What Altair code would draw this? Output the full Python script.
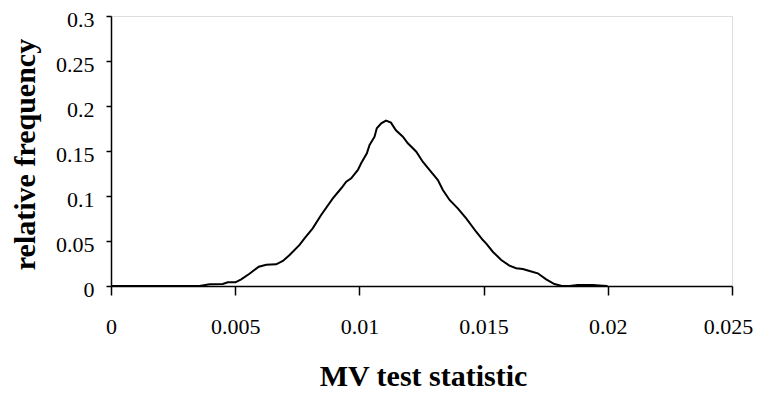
import altair as alt
import pandas as pd

# MV test statistic values (x) and relative frequency (y)
mv_stat = [0.0, 0.00356, 0.00397, 0.00450, 0.00470, 0.00501, 0.00524, 0.00556,
           0.00595, 0.00625, 0.00665, 0.00692, 0.00719, 0.00759, 0.00779,
           0.00812, 0.00846, 0.00893, 0.00927, 0.00947, 0.00967, 0.00994,
           0.01007, 0.01030, 0.01041, 0.01061, 0.01070, 0.01088, 0.01107,
           0.01127, 0.01147, 0.01175, 0.01195, 0.01229, 0.01255, 0.01282,
           0.01316, 0.01336, 0.01363, 0.01396, 0.01430, 0.01470, 0.01497,
           0.01510, 0.01537, 0.01571, 0.01604, 0.01631, 0.01658, 0.01685,
           0.01718, 0.01752, 0.01785, 0.01812, 0.01846, 0.01879, 0.01940,
           0.01980, 0.01999]
rel_freq = [0.0, 0.0, 0.0019, 0.0022, 0.0041, 0.0041, 0.0074, 0.0133,
            0.0214, 0.0237, 0.0241, 0.0278, 0.0344, 0.0456, 0.0530,
            0.0641, 0.0789, 0.0974, 0.1086, 0.1159, 0.1197, 0.1289,
            0.1363, 0.1474, 0.1567, 0.1659, 0.1752, 0.1808, 0.1837,
            0.1815, 0.1730, 0.1659, 0.1586, 0.1492, 0.1381, 0.1289,
            0.1178, 0.1067, 0.0956, 0.0863, 0.0752, 0.0603, 0.0511,
            0.0474, 0.0381, 0.0289, 0.0226, 0.0197, 0.0189, 0.0167,
            0.0141, 0.0074, 0.0022, 0.0003, 0.0, 0.0011, 0.0011,
            0.0003, 0.0]

x_ticks = [0, 0.005, 0.01, 0.015, 0.02, 0.025]
y_ticks = [0, 0.05, 0.1, 0.15, 0.2, 0.25, 0.3]

df = pd.DataFrame({"x": mv_stat, "y": rel_freq, "order": list(range(len(mv_stat)))})

FONT = "Liberation Serif"

chart = alt.Chart(df).mark_line(color="black", strokeWidth=2, clip=True).encode(
    x=alt.X("x:Q",
            scale=alt.Scale(domain=[0, 0.025], nice=False, zero=False),
            axis=alt.Axis(values=x_ticks, format="~g", grid=False,
                          title="MV test statistic",
                          titleFont=FONT, titleFontSize=30, titleFontWeight="bold",
                          titleColor="black", titleBaseline="alphabetic",
                          titleAlign="center", titleX=312, titleY=99,
                          labelFont=FONT, labelFontSize=22, labelColor="black",
                          labelBaseline="alphabetic", labelPadding=38,
                          labelOffset={"condition": {"test": "datum.value >= 0.025", "value": -4}, "value": 0},
                          labelFlush=False, labelOverlap=False,
                          tickSize=9, tickColor="black", tickWidth=1.5,
                          domainColor="black", domainWidth=1.5)),
    y=alt.Y("y:Q",
            scale=alt.Scale(domain=[0, 0.3], nice=False),
            axis=alt.Axis(values=y_ticks, format="~g", grid=False,
                          title="relative frequency",
                          titleFont=FONT, titleFontSize=30, titleFontWeight="bold",
                          titleColor="black", titleAngle=270,
                          titleBaseline="alphabetic", titleAlign="center",
                          titleX=-77, titleY=138,
                          labelFont=FONT, labelFontSize=22, labelColor="black",
                          labelPadding=12, labelOffset=3.5, labelFlush=False,
                          labelOverlap=False,
                          tickSize=5, tickColor="black", tickWidth=1.5,
                          domainColor="black", domainWidth=1.5)),
    order="order:Q",
).properties(
    width=621,
    height=270,
    autosize=alt.AutoSizeParams(type="none"),
    padding={"left": 103, "top": 8, "right": 21, "bottom": 104},
).configure_view(stroke=None).configure(background="white", font=FONT)

chart.save("out.html", embed_options={"renderer": "svg", "actions": False})
